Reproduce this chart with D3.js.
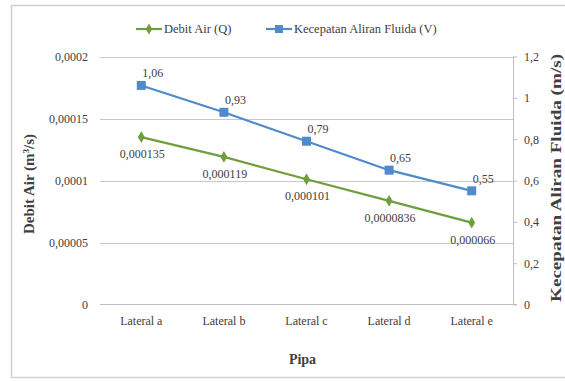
<!DOCTYPE html>
<html>
<head>
<meta charset="utf-8">
<script src="https://cdn.jsdelivr.net/npm/d3@7/dist/d3.min.js"></script>
<style>
  html, body { margin: 0; padding: 0; background: #fff; }
  svg text { font-family: "Liberation Serif", "Tinos", "Times New Roman", "DejaVu Serif", serif; fill: #404040; }
</style>
</head>
<body>
<svg id="chart" width="565" height="381"></svg>
<script>
// Data
const categories = ["Lateral a", "Lateral b", "Lateral c", "Lateral d", "Lateral e"];
const debitAir = [0.000135, 0.000119, 0.000101, 0.0000836, 0.000066];
const debitLabels = ["0,000135", "0,000119", "0,000101", "0,0000836", "0,000066"];
const kecepatan = [1.06, 0.93, 0.79, 0.65, 0.55];
const kecepatanLabels = ["1,06", "0,93", "0,79", "0,65", "0,55"];
const leftTicks = [0, 0.00005, 0.0001, 0.00015, 0.0002];
const leftTickLabels = ["0", "0,00005", "0,0001", "0,00015", "0,0002"];
const rightTicks = [0, 0.2, 0.4, 0.6, 0.8, 1, 1.2];
const rightTickLabels = ["0", "0,2", "0,4", "0,6", "0,8", "1", "1,2"];

const greenColor = "#6f9e3c";
const blueColor = "#4f8acb";
const FONT = '"Liberation Serif", "Tinos", "Times New Roman", "DejaVu Serif", serif';

const svg = d3.select("#chart");

// Outer frame
svg.append("rect")
  .attr("x", 11.5).attr("y", 5.5).attr("width", 560).attr("height", 372)
  .attr("fill", "none").attr("stroke", "#d0d0d0").attr("stroke-width", 1.5);

const plot = { left: 100, right: 513, top: 56.5, bottom: 304.5 };

const x = d3.scaleBand().domain(categories).range([plot.left, plot.right]);
const yL = d3.scaleLinear().domain([0, 0.0002]).range([plot.bottom, plot.top]);
const yR = d3.scaleLinear().domain([0, 1.2]).range([plot.bottom, plot.top]);

// Horizontal gridlines (left axis)
svg.append("g")
  .selectAll("line")
  .data(leftTicks.slice(1))
  .join("line")
  .attr("x1", plot.left).attr("x2", plot.right)
  .attr("y1", d => Math.round(yL(d)) + 0.5).attr("y2", d => Math.round(yL(d)) + 0.5)
  .attr("stroke", "#c8c8c8").attr("stroke-width", 1);

// Bottom axis line
svg.append("line")
  .attr("x1", plot.left).attr("x2", plot.right + 4)
  .attr("y1", plot.bottom).attr("y2", plot.bottom)
  .attr("stroke", "#bfbfbf");

function styleText(sel, size) {
  sel.attr("font-family", null)
    .style("font-family", FONT)
    .style("font-size", size + "px")
    .attr("fill", "#404040");
}

// Left axis labels
const leftAxis = d3.axisLeft(yL)
  .tickValues(leftTicks)
  .tickFormat((d, i) => leftTickLabels[i])
  .tickSize(0).tickPadding(12);
const gL = svg.append("g").attr("transform", `translate(${plot.left},0)`).call(leftAxis);
gL.select(".domain").remove();
gL.attr("font-family", null);
styleText(gL.selectAll("text"), 12);

// Right axis
const rightAxis = d3.axisRight(yR)
  .tickValues(rightTicks)
  .tickFormat((d, i) => rightTickLabels[i])
  .tickSize(4).tickPadding(7);
const gR = svg.append("g").attr("transform", `translate(${plot.right},0)`).call(rightAxis);
gR.select(".domain").attr("stroke", "#bfbfbf").attr("d", `M0.5,${plot.top}V${plot.bottom}`);
gR.selectAll(".tick line").attr("stroke", "#bfbfbf");
gR.attr("font-family", null);
styleText(gR.selectAll("text"), 12);

// Bottom axis labels
const bottomAxis = d3.axisBottom(x).tickSize(0).tickPadding(12);
const gB = svg.append("g").attr("transform", `translate(0,${plot.bottom})`).call(bottomAxis);
gB.select(".domain").remove();
gB.attr("font-family", null);
styleText(gB.selectAll("text"), 12);

const cx = d => x(d) + x.bandwidth() / 2;

// Debit Air line
svg.append("path")
  .datum(debitAir)
  .attr("fill", "none").attr("stroke", greenColor).attr("stroke-width", 2.2)
  .attr("d", d3.line().x((d, i) => cx(categories[i])).y(d => yL(d)));

svg.append("g").selectAll("path")
  .data(debitAir)
  .join("path")
  .attr("d", d3.symbol(d3.symbolDiamond, 40))
  .attr("transform", (d, i) => `translate(${cx(categories[i])},${yL(d)})`)
  .attr("fill", greenColor);

// Kecepatan line
svg.append("path")
  .datum(kecepatan)
  .attr("fill", "none").attr("stroke", blueColor).attr("stroke-width", 2.2)
  .attr("d", d3.line().x((d, i) => cx(categories[i])).y(d => yR(d)));

svg.append("g").selectAll("rect")
  .data(kecepatan)
  .join("rect")
  .attr("x", (d, i) => cx(categories[i]) - 4.5)
  .attr("y", d => yR(d) - 4.5)
  .attr("width", 9).attr("height", 9)
  .attr("fill", blueColor);

// Data labels
styleText(svg.append("g").selectAll("text")
  .data(kecepatan)
  .join("text")
  .attr("x", (d, i) => cx(categories[i]) + 1)
  .attr("y", d => yR(d) - 8)
  .attr("text-anchor", "start")
  .text((d, i) => kecepatanLabels[i]), 12);

styleText(svg.append("g").selectAll("text")
  .data(debitAir)
  .join("text")
  .attr("x", (d, i) => cx(categories[i]) + 1)
  .attr("y", d => yL(d) + 21)
  .attr("text-anchor", "middle")
  .text((d, i) => debitLabels[i]), 12);

// Legend
const legend = svg.append("g");
const legendItems = [
  { label: "Debit Air (Q)", color: greenColor, shape: "diamond", x0: 136 },
  { label: "Kecepatan Aliran Fluida (V)", color: blueColor, shape: "square", x0: 266 }
];
legendItems.forEach(item => {
  const g = legend.append("g").attr("transform", `translate(${item.x0},29)`);
  g.append("line").attr("x1", 0).attr("x2", 26).attr("y1", 0).attr("y2", 0)
    .attr("stroke", item.color).attr("stroke-width", 2.2);
  if (item.shape === "diamond") {
    g.append("path").attr("d", d3.symbol(d3.symbolDiamond, 36)).attr("transform", "translate(13,0)").attr("fill", item.color);
  } else {
    g.append("rect").attr("x", 9).attr("y", -4).attr("width", 8).attr("height", 8).attr("fill", item.color);
  }
  styleText(g.append("text").attr("x", 28).attr("y", 4).text(item.label), 12.5);
});

// Axis titles
const tL = svg.append("text")
  .attr("transform", `translate(34,184) rotate(-90)`)
  .attr("text-anchor", "middle")
  .style("font-weight", "bold")
  .html("Debit Air (m<tspan dy='-5' style='font-size:9px'>3</tspan><tspan dy='5'>/s)</tspan>");
styleText(tL, 15);

const tR = svg.append("text")
  .attr("transform", `translate(561,178) rotate(-90)`)
  .attr("text-anchor", "middle")
  .attr("textLength", 248)
  .attr("lengthAdjust", "spacingAndGlyphs")
  .style("font-weight", "bold")
  .text("Kecepatan Aliran Fluida (m/s)");
styleText(tR, 14);

const tX = svg.append("text")
  .attr("x", (plot.left + plot.right) / 2 - 4)
  .attr("y", 364)
  .attr("text-anchor", "middle")
  .style("font-weight", "bold")
  .text("Pipa");
styleText(tX, 14);
</script>
</body>
</html>
